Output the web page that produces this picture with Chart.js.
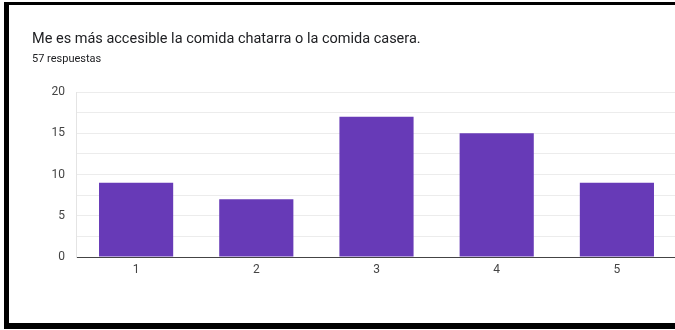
<!DOCTYPE html>
<html>
<head>
<meta charset="utf-8">
<script src="https://cdn.jsdelivr.net/npm/chart.js@4/dist/chart.umd.min.js"></script>
<style>
  html, body { margin: 0; padding: 0; background: #fff; overflow: hidden; }
  #wrap { position: absolute; left: 0; top: 0; width: 680px; height: 330px; }
  #frame {
    position: absolute; left: 4px; top: 2px; width: 700px; height: 327px;
    box-sizing: border-box;
    border-top: 3px solid #000; border-left: 5px solid #000; border-bottom: 6px solid #000;
    pointer-events: none;
  }
</style>
</head>
<body>
<div id="wrap"><canvas id="graph" width="680" height="330"></canvas></div>
<div id="frame"></div>
<script>
const categories = ['1', '2', '3', '4', '5'];
const responses = [9, 7, 17, 15, 9];
const yTickLabels = [0, 5, 10, 15, 20];

const ctx = document.getElementById('graph').getContext('2d');
const graph = new Chart(ctx, {
  type: 'bar',
  data: {
    labels: categories,
    datasets: [{
      label: 'Respuestas',
      data: responses,
      backgroundColor: '#673ab7',
      borderWidth: 0,
      categoryPercentage: 1,
      barPercentage: 0.617
    }]
  },
  options: {
    responsive: false,
    animation: false,
    layout: { padding: { left: 32, right: 3, top: 0, bottom: 43 } },
    plugins: {
      legend: { display: false },
      tooltip: { enabled: false },
      title: {
        display: true,
        text: 'Me es más accesible la comida chatarra o la comida casera.',
        align: 'start',
        color: '#202124',
        font: { family: 'Roboto', size: 14.5, weight: 'normal' },
        padding: { top: 30.9, bottom: 0 }
      },
      subtitle: {
        display: true,
        text: '57 respuestas',
        align: 'start',
        color: '#202124',
        font: { family: 'Roboto', size: 11 },
        padding: { top: 4.1, bottom: 26.4 }
      }
    },
    scales: {
      x: {
        grid: { display: false, drawTicks: false },
        border: { display: true, color: '#444', width: 1 },
        ticks: { color: '#444', font: { family: 'Roboto', size: 12 }, padding: 6 },
        afterFit: (scale) => { scale.height = 30; }
      },
      y: {
        min: 0,
        max: 20,
        grid: { color: '#ececec', drawTicks: false },
        border: { display: true, color: '#e4e4e4' },
        ticks: {
          stepSize: 2.5,
          color: '#444',
          font: { family: 'Roboto', size: 12 },
          padding: 11,
          callback: (v) => yTickLabels.includes(v) ? String(v) : ''
        },
        afterFit: (scale) => { scale.width = 44; }
      }
    }
  }
});
</script>
</body>
</html>
